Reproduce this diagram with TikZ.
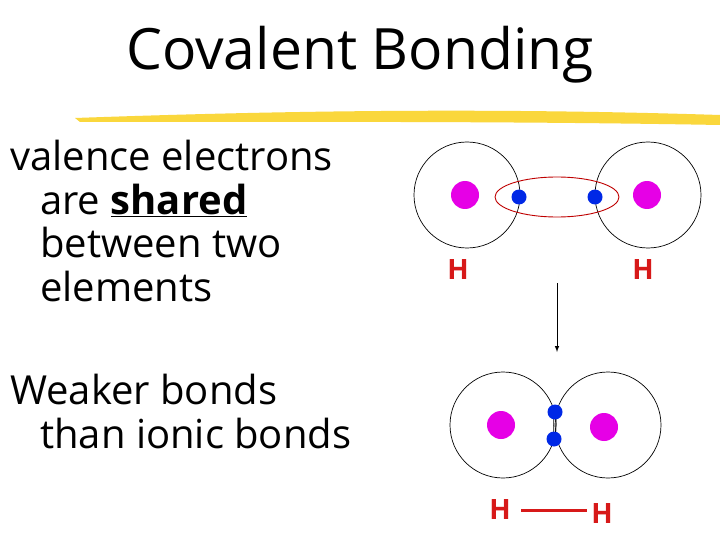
\documentclass[tikz,border=0pt]{standalone}
\usepackage{fontspec}
\setmainfont{Open Sans}
\definecolor{nucc}{RGB}{230,0,230}
\definecolor{elc}{RGB}{0,40,230}
\definecolor{hred}{RGB}{215,25,25}
\definecolor{brush}{RGB}{250,215,60}
\begin{document}
\begin{tikzpicture}[x=1pt,y=-1pt,
  shell/.style={draw=black,line width=0.7pt},
  nuc/.style={circle,fill=nucc,minimum size=28pt,inner sep=0pt},
  elec/.style={circle,fill=elc,minimum size=15pt,inner sep=0pt},
  hlab/.style={text=hred,font=\bfseries\fontsize{28}{32}\selectfont,inner sep=0pt},
  body/.style={anchor=north west,align=left,font=\fontsize{40}{43.5}\selectfont,inner sep=0pt}]
\useasboundingbox (0,0) rectangle (720,540);
\fill[white] (0,0) rectangle (720,540);
% title
\node (title) at (360,55) {\fontsize{57}{62}\selectfont Covalent Bonding};
\fill[brush] (75,118) .. controls (300,110) and (500,108) .. (720,115) -- (720,125) .. controls (500,121) and (300,122) .. (80,122) -- cycle;
% text
\node[body] (t1) at (10,140) {valence electrons\\\hspace*{30pt}are \underline{\textbf{shared}}\\\hspace*{30pt}between two\\\hspace*{30pt}elements};
\node[body] (t2) at (10,374) {Weaker bonds\\\hspace*{30pt}than ionic bonds};
% top atoms
\draw[shell] (467,195) circle (53);
\draw[shell] (648,195) circle (53);
\node[nuc] (n1) at (465,195) {};
\node[nuc] (n2) at (647,195) {};
\draw[red!75!black,line width=0.9pt] (557,197) ellipse (62 and 20);
\node[elec] (e1) at (519,197) {};
\node[elec] (e2) at (595,197) {};
\node[hlab] (h1) at (458,270) {H};
\node[hlab] (h2) at (643,270) {H};
% arrow
\coordinate (a1) at (557,283);
\coordinate (a2) at (557,352);
\draw[-latex,line width=1pt] (a1) -- (a2);
% bottom molecule
\draw[shell] (503,425) circle (53);
\draw[shell] (608,425) circle (53);
\node[nuc] (n3) at (501,425) {};
\node[nuc] (n4) at (604,427) {};
\draw[line width=0.5pt] (554,412) -- (553,439);
\draw[line width=0.5pt] (556.5,412) -- (555.5,439);
\node[elec] (e3) at (555,412) {};
\node[elec] (e4) at (554,439) {};
\node[hlab] (h3) at (500,510) {H};
\node[hlab] (h4) at (602,514) {H};
\draw[hred,line width=3pt] (521,510) -- (587,510);
\end{tikzpicture}
\end{document}
